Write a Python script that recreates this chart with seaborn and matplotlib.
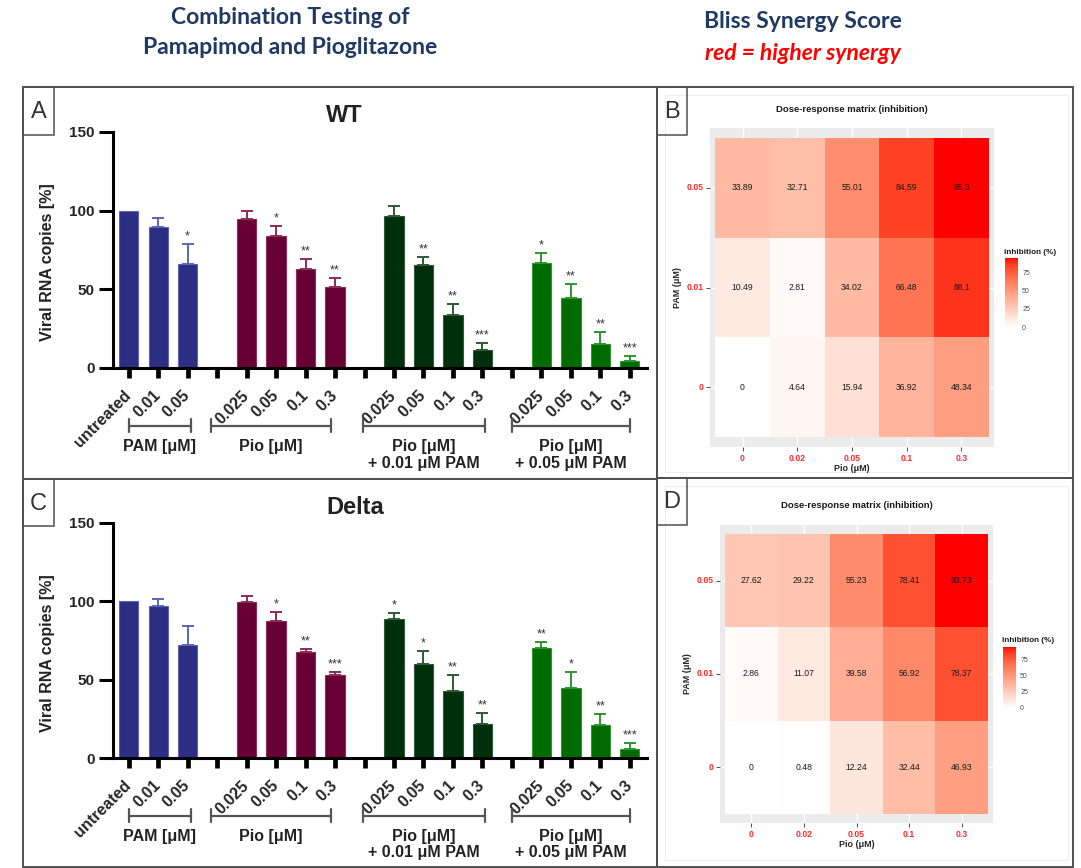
import numpy as np
import pandas as pd
import seaborn as sns
import matplotlib.pyplot as plt
from matplotlib.colors import LinearSegmentedColormap
from matplotlib.patches import Rectangle

# ---- data ----
bar_labels = ['untreated', '0.01', '0.05',
              '0.025', '0.05', '0.1', '0.3',
              '0.025', '0.05', '0.1', '0.3',
              '0.025', '0.05', '0.1', '0.3']
bar_groups = ['PAM'] * 3 + ['Pio'] * 4 + ['Pio+0.01'] * 4 + ['Pio+0.05'] * 4
group_titles = ['PAM [μM]', 'Pio [μM]', 'Pio [μM]\n+ 0.01 μM PAM', 'Pio [μM]\n+ 0.05 μM PAM']

wt_mean = [100, 89.4, 65.9, 94.9, 83.7, 63.0, 51.3, 96.8, 65.7, 33.6, 11.6, 66.8, 44.8, 15.2, 4.4]
wt_err = [0, 5.7, 13.1, 5.0, 6.3, 6.5, 5.7, 6.1, 4.7, 6.8, 4.2, 6.5, 8.7, 7.6, 3.4]
wt_sig = ['', '', '*', '', '*', '**', '**', '', '**', '**', '***', '*', '**', '**', '***']

delta_mean = [100, 97.0, 72.1, 99.6, 87.7, 67.4, 52.8, 88.9, 60.2, 42.8, 21.5, 70.4, 44.5, 21.3, 5.7]
delta_err = [0, 4.3, 12.4, 3.8, 5.3, 2.2, 1.9, 3.7, 8.1, 10.0, 7.0, 3.4, 10.6, 7.0, 3.7]
delta_sig = ['', '', '', '', '*', '**', '***', '*', '*', '**', '**', '**', '*', '**', '***']

pio_doses = ['0', '0.02', '0.05', '0.1', '0.3']
pam_doses = ['0.05', '0.01', '0']
wt_inhib = [[33.89, 32.71, 55.01, 84.59, 95.3],
            [10.49, 2.81, 34.02, 66.48, 88.1],
            [0, 4.64, 15.94, 36.92, 48.34]]
delta_inhib = [[27.62, 29.22, 55.23, 78.41, 93.73],
               [2.86, 11.07, 39.58, 56.92, 78.37],
               [0, 0.48, 12.24, 32.44, 46.93]]

# ---- style ----
bar_colors = {'PAM': '#2B2E83', 'Pio': '#690034', 'Pio+0.01': '#00300B', 'Pio+0.05': '#006C00'}
err_colors = {'PAM': '#5F63B8', 'Pio': '#8E2A5C', 'Pio+0.01': '#2F5A35', 'Pio+0.05': '#2E962E'}
navy = '#1F3864'

W, H = 1081, 868
sns.set_style('white')
plt.rcParams['font.family'] = ['Liberation Sans', 'DejaVu Sans']

fig = plt.figure(figsize=(W / 100, H / 100), dpi=100)


def px_axes(x0, y0, x1, y1):
    return fig.add_axes([x0 / W, 1 - y1 / H, (x1 - x0) / W, (y1 - y0) / H])


overlay = fig.add_axes([0, 0, 1, 1])
overlay.set_xlim(0, W)
overlay.set_ylim(H, 0)
overlay.axis('off')

# headers
hdr = ['Lato', 'DejaVu Sans']
overlay.text(290, 17, 'Combination Testing of', ha='center', va='center', fontsize=16.5,
             fontweight='bold', color=navy, family=hdr)
overlay.text(290, 47, 'Pamapimod and Pioglitazone', ha='center', va='center', fontsize=16.5,
             fontweight='bold', color=navy, family=hdr)
overlay.text(803, 21, 'Bliss Synergy Score', ha='center', va='center', fontsize=16.5,
             fontweight='bold', color=navy, family=hdr)
overlay.text(803, 53, 'red = higher synergy', ha='center', va='center', fontsize=16.5,
             fontweight='bold', style='italic', color='#FF0000', family=hdr)

# panel frames and letter boxes
for (x0, y0, x1, y1) in [(23, 87, 657, 479), (23, 479, 657, 867), (657, 87, 1073, 478), (657, 478, 1073, 867)]:
    overlay.add_patch(Rectangle((x0, y0), x1 - x0, y1 - y0, fill=False, ec='#505050', lw=1.4))
for (x0, y0, x1, y1) in [(665, 95, 1068, 472), (665, 486, 1068, 860)]:
    overlay.add_patch(Rectangle((x0, y0), x1 - x0, y1 - y0, fill=False, ec='#EEEEEE', lw=0.8))
for letter, (x0, y0, x1, y1) in zip('ACBD', [(23, 87, 54, 135), (23, 479, 54, 526),
                                             (657, 87, 687, 135), (657, 478, 687, 525)]):
    overlay.add_patch(Rectangle((x0, y0), x1 - x0, y1 - y0, fill=False, ec='#505050', lw=1.1))
    overlay.text((x0 + x1) / 2, (y0 + y1) / 2 + 1, letter, ha='center', va='center',
                 fontsize=17, color='#333333')

# category slots: one empty slot between groups
slot_ids = []
bar_slots = []
prev = bar_groups[0]
for i, g in enumerate(bar_groups):
    if g != prev:
        slot_ids.append(f'gap{i}')
        prev = g
    slot_ids.append(f'bar{i}')
    bar_slots.append(len(slot_ids) - 1)
tick_labels = [''] * len(slot_ids)
for p, lab in zip(bar_slots, bar_labels):
    tick_labels[p] = lab

bracket_spans = [(0, 2.1), (2.8, 6.85), (7.95, 12.07), (13.0, 17.0)]


def bar_panel(ax, title, title_xy, ylab_xy, means, errs, sigs):
    df = pd.DataFrame({'slot': [f'bar{i}' for i in range(len(means))], 'value': means,
                       'group': bar_groups})
    sns.barplot(data=df, x='slot', y='value', hue='group', order=slot_ids, palette=bar_colors,
                saturation=1, width=0.65, dodge=False, errorbar=None, legend=False, ax=ax,
                linewidth=0.8)
    bars = [p for p in ax.patches if p.get_height() > 0]
    bars.sort(key=lambda r: r.get_x())
    for patch, g in zip(bars, bar_groups):
        patch.set_edgecolor(err_colors[g])
    for p, m, e, s, g in zip(bar_slots, means, errs, sigs, bar_groups):
        if e > 0:
            ax.errorbar(p, m, yerr=[[0], [e]], fmt='none', ecolor=err_colors[g],
                        elinewidth=1.4, capsize=4.5, capthick=1.4, zorder=3)
        if s:
            ax.text(p, m + e + 1.0, s, ha='center', va='bottom', fontsize=9, color='#333333')
    ax.set_ylim(0, 150)
    ax.set_xlim(-0.53, 17.58)
    ax.set_yticks([0, 50, 100, 150])
    ax.set_yticklabels(['0', '50', '100', '150'], fontsize=11, fontweight='bold')
    ax.set_xticks(range(len(tick_labels)))
    ax.set_xticklabels(tick_labels, rotation=45, ha='right', va='center', rotation_mode='anchor',
                       fontsize=11.5, fontweight='bold')
    ax.tick_params(axis='x', bottom=True, direction='out', length=7, width=3.4, pad=11, color='black')
    ax.tick_params(axis='y', left=True, direction='out', length=10, width=2.2, pad=3, color='black')
    for side in ['top', 'right']:
        ax.spines[side].set_visible(False)
    for side in ['left', 'bottom']:
        ax.spines[side].set_linewidth(2.2)
        ax.spines[side].set_color('black')
    ax.set_xlabel('')
    ax.set_ylabel('')
    ax.set_facecolor('none')
    trans = ax.get_xaxis_transform()
    for (a, b), name in zip(bracket_spans, group_titles):
        ax.plot([a, b], [-0.245, -0.245], color='#555555', lw=1.6, transform=trans, clip_on=False)
        for x in (a, b):
            ax.plot([x, x], [-0.218, -0.272], color='#555555', lw=1.6, transform=trans, clip_on=False)
        for i, line in enumerate(name.split('\n')):
            ax.text((a + b) / 2, -0.333 - 0.07 * i, line, ha='center', va='center', transform=trans,
                    fontsize=11.5, fontweight='bold', color='#222222')
    overlay.text(title_xy[0], title_xy[1], title, ha='center', va='center', fontsize=17,
                 fontweight='bold', color='#222222')
    overlay.text(ylab_xy[0], ylab_xy[1], 'Viral RNA copies [%]', ha='center', va='center',
                 rotation=90, fontsize=11.5, fontweight='bold', color='#222222')


ax_a = px_axes(113, 132, 647, 368)
bar_panel(ax_a, 'WT', (344, 115), (48, 262), wt_mean, wt_err, wt_sig)
ax_c = px_axes(113, 523, 647, 758)
bar_panel(ax_c, 'Delta', (355, 507), (48, 653), delta_mean, delta_err, delta_sig)


# ---- heatmaps: white -> red ramp interpolated in CIELAB like ggplot ----
def lab_to_rgb(L, a, b):
    fy = (L + 16) / 116
    fx = fy + a / 500
    fz = fy - b / 200

    def finv(t):
        return np.where(t > 6 / 29, t ** 3, 3 * (6 / 29) ** 2 * (t - 4 / 29))
    xyz = np.stack([0.95047 * finv(fx), finv(fy), 1.08883 * finv(fz)])
    m = np.array([[3.2406, -1.5372, -0.4986], [-0.9689, 1.8758, 0.0415], [0.0557, -0.2040, 1.0570]])
    lin = m @ xyz
    rgb = np.where(lin <= 0.0031308, 12.92 * lin, 1.055 * np.clip(lin, 0, None) ** (1 / 2.4) - 0.055)
    return np.clip(rgb, 0, 1).T


t = np.linspace(0, 1, 64)
ramp = lab_to_rgb(100 + (53.24 - 100) * t, 80.09 * t, 67.20 * t)
white_red = LinearSegmentedColormap.from_list('white_red', ramp)


def heat_panel(ax, cax, values, title_xy, cbar_title_xy):
    data = pd.DataFrame(values, index=pam_doses, columns=pio_doses)
    annot = np.array([[f'{v:g}' for v in row] for row in values])
    sns.heatmap(data, ax=ax, cmap=white_red, vmin=0, vmax=np.max(values), annot=annot, fmt='',
                annot_kws={'fontsize': 6.2, 'color': '#1a1a1a'}, cbar_ax=cax,
                cbar_kws={'ticks': [0, 25, 50, 75]})
    ax.set_facecolor('#EBEBEB')
    ax.set_xlim(-0.095, 5.095)
    ax.set_ylim(3.1, -0.1)
    for i in range(5):
        ax.axvline(i + 0.5, color='white', lw=1.0, zorder=0.5)
    for j in range(3):
        ax.axhline(j + 0.5, color='white', lw=1.0, zorder=0.5)
    for side in ax.spines.values():
        side.set_visible(False)
    ax.set_xticklabels(pio_doses, rotation=0, fontsize=6.2, fontweight='bold', color='#FF2A2A')
    ax.set_yticklabels(pam_doses, rotation=0, fontsize=6.2, fontweight='bold', color='#FF2A2A')
    ax.tick_params(bottom=True, left=True, length=2.8, width=0.6, color='#333333', pad=2)
    ax.set_xlabel('Pio (μM)', fontsize=6.4, fontweight='bold', labelpad=1)
    ax.set_ylabel('PAM (μM)', fontsize=6.4, fontweight='bold', labelpad=3)
    cbar = ax.collections[0].colorbar
    cbar.outline.set_visible(False)
    cax.tick_params(labelsize=5, length=2, width=0.6, color='white', direction='in',
                    labelcolor='#4D4D4D', right=True, left=True, pad=3)
    overlay.text(title_xy[0], title_xy[1], 'Dose-response matrix (inhibition)', ha='center',
                 va='center', fontsize=6.8, fontweight='bold', color='#1a1a1a')
    overlay.text(cbar_title_xy[0], cbar_title_xy[1], 'inhibition (%)', ha='left', va='center',
                 fontsize=5.9, fontweight='bold', color='#1a1a1a')


ax_b = px_axes(710, 128, 994, 447)
cax_b = px_axes(1005, 258, 1018, 327)
heat_panel(ax_b, cax_b, wt_inhib, (852, 109), (1004, 252))

ax_d = px_axes(720, 525, 993, 823)
cax_d = px_axes(1003, 647, 1016, 708)
heat_panel(ax_d, cax_d, delta_inhib, (857, 506), (1002, 641))

fig.savefig('out.png', dpi=100)
